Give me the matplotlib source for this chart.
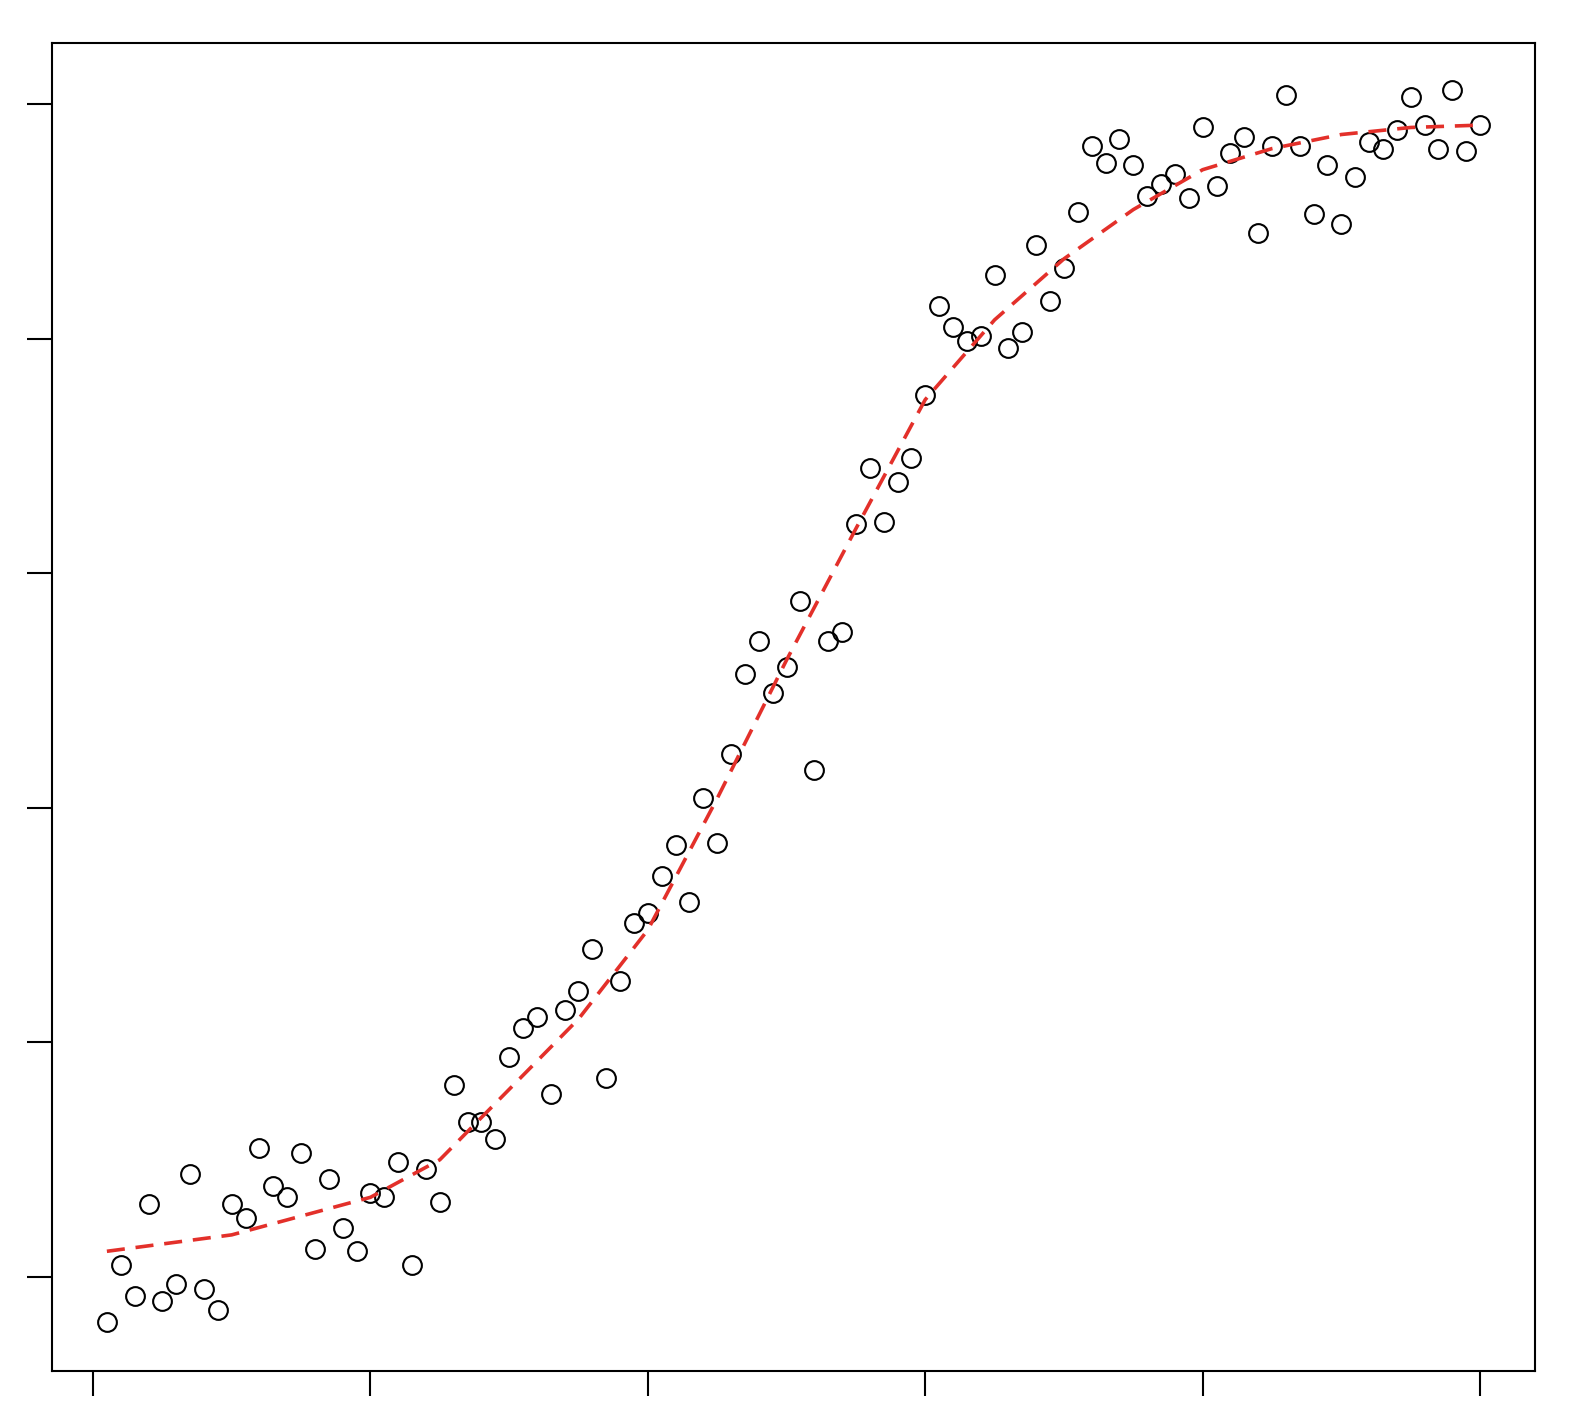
import numpy as np
import matplotlib
matplotlib.use("Agg")
import matplotlib.pyplot as plt

x = np.arange(1, 101)
y = [-0.19, 0.05, -0.08, 0.31, -0.10, -0.03, 0.44, -0.05, -0.14, 0.31,
     0.25, 0.55, 0.39, 0.34, 0.53, 0.12, 0.42, 0.21, 0.11, 0.36,
     0.34, 0.49, 0.05, 0.46, 0.32, 0.82, 0.66, 0.66, 0.59, 0.94,
     1.06, 1.11, 0.78, 1.14, 1.22, 1.40, 0.85, 1.26, 1.51, 1.55,
     1.71, 1.84, 1.60, 2.04, 1.85, 2.23, 2.57, 2.71, 2.49, 2.60,
     2.88, 2.16, 2.71, 2.75, 3.21, 3.45, 3.22, 3.39, 3.49, 3.76,
     4.14, 4.05, 3.99, 4.01, 4.27, 3.96, 4.03, 4.40, 4.16, 4.30,
     4.54, 4.82, 4.75, 4.85, 4.74, 4.61, 4.66, 4.70, 4.60, 4.90,
     4.65, 4.79, 4.86, 4.45, 4.82, 5.04, 4.82, 4.53, 4.74, 4.49,
     4.69, 4.84, 4.81, 4.89, 5.03, 4.91, 4.81, 5.06, 4.80, 4.91]

# fitted curve
fit_x = [1, 10, 20, 25, 30, 35, 40, 45, 50, 55, 60, 65, 70, 75, 80, 85, 90, 95, 100]
fit_y = [0.11, 0.18, 0.34, 0.50, 0.80, 1.10, 1.48, 2.04, 2.63, 3.19, 3.74,
         4.08, 4.34, 4.55, 4.72, 4.81, 4.87, 4.90, 4.91]

fig = plt.figure(figsize=(15.7, 14.1), dpi=100)
ax = fig.add_axes([0.0331, 0.0277, 0.9446, 0.9418])

ax.plot(x, y, 'o', mfc='none', mec='black', ms=13.5, mew=1.5)
ax.plot(fit_x, fit_y, color='#e3302a', lw=2.6, dashes=(5, 3))

ax.set_xlim(-2.96, 103.96)
ax.set_ylim(-0.40, 5.26)
ax.set_xticks([0, 20, 40, 60, 80, 100])
ax.set_yticks([0, 1, 2, 3, 4, 5])
ax.set_xticklabels([])
ax.set_yticklabels([])
ax.tick_params(direction='out', length=18, width=1.5)
for s in ax.spines.values():
    s.set_linewidth(1.5)

fig.savefig("out.png", dpi=100)
